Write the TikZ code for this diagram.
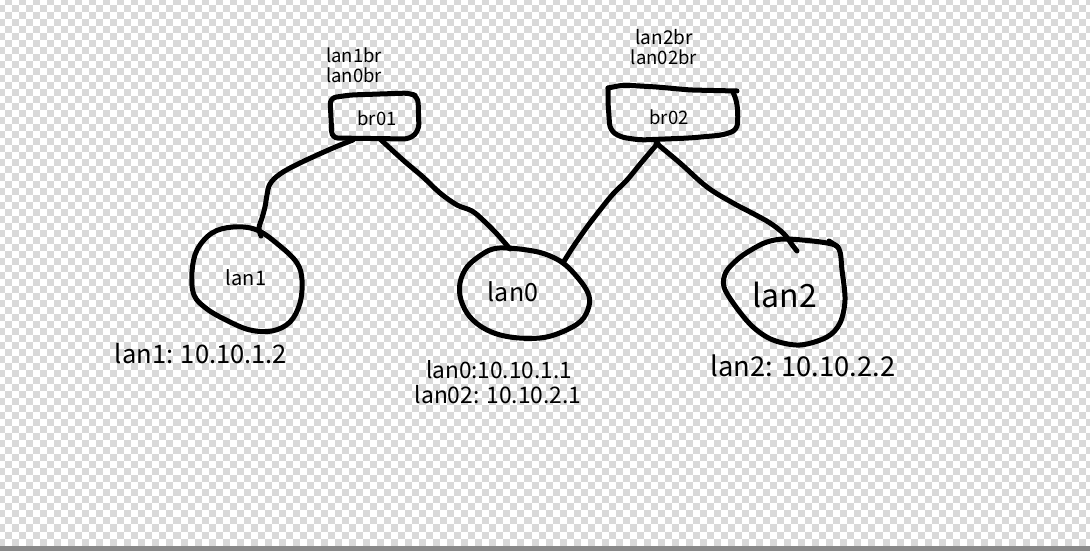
\documentclass[tikz,border=0pt]{standalone}
\usepackage{fontspec}
\setmainfont{Noto Sans CJK SC}
\definecolor{chk}{RGB}{217,217,217}
\definecolor{barc}{RGB}{137,137,137}
\newcommand\fsz[1]{\fontsize{#1}{#1}\selectfont}
\tikzset{
  ink/.style={line width=5pt, line cap=round, line join=round, black},
  lbl/.style={inner sep=0pt, anchor=base, text=black},
  chkrow/.style={line width=7.02pt, chk, line cap=butt, dash pattern=on 7.02pt off 7.02pt},
}
\begin{document}
\begin{tikzpicture}[x=1pt,y=-1pt]
\useasboundingbox (0,0) rectangle (1090,551);
% background
\fill[white] (0,0) rectangle (1090,551);
\begin{scope}
  \clip (0,0) rectangle (1090,546);
  \foreach \j in {0,...,79} {
    \pgfmathsetmacro\yy{-2.02+7.02*\j+3.51}
    \pgfmathsetmacro\ph{mod(\j+1,2)*7.02}
    \draw[chkrow, dash phase=\ph pt] (-2.02,\yy) -- (1100,\yy);
  }
\end{scope}
\fill[barc] (0,546) rectangle (1090,551);

% bridge boxes
\draw[ink, rounded corners=6pt] (330,98) -- (350,95) -- (410,93) -- (418,97) -- (419,130) -- (410,139) -- (332,138) -- cycle;
\draw[ink, rounded corners=6pt] (608,88) -- (623,85) -- (657,87) -- (690,90) -- (737,91);
\draw[ink, rounded corners=6pt] (733,92) -- (737,102) -- (738,117) -- (737,130) -- (723,135) -- (690,138) -- (640,140) -- (620,137) -- (610,130) -- (608,103) -- (608,88);

% lan outlines
\draw[ink] plot[smooth cycle, tension=0.6] coordinates {(233,227) (257,230) (280,246) (297,263) (302,280) (300,303) (290,322) (272,331) (250,330) (228,321) (207,309) (194,295) (192,272) (197,250) (212,233)};
\draw[ink] plot[smooth cycle, tension=0.6] coordinates {(507,248) (527,250) (545,254) (563,263) (578,278) (588,293) (589,306) (581,321) (562,332) (540,338) (510,337) (487,330) (470,317) (461,300) (460,283) (467,267) (481,255) (493,249)};
\draw[ink] plot[smooth cycle, tension=0.55] coordinates {(767,242) (787,239) (827,243) (839,249) (842,270) (845,300) (840,323) (827,337) (800,345) (773,340) (753,327) (736,307) (724,287) (726,272) (738,259) (751,250)};
\draw[ink] (829,241) -- (838,247);

% text
\node[lbl] (tlan1br) at (354,63) {\fsz{18.5}lan1br};
\node[lbl] (tlan0br) at (354,83) {\fsz{18.5}lan0br};
\node[lbl] (br01) at (377,125) {\fsz{18.5}br01};
\node[lbl] (tlan2br) at (664,45) {\fsz{19}lan2br};
\node[lbl] (tlan02br) at (664,65) {\fsz{18.5}lan02br};
\node[lbl] (br02) at (669,124) {\fsz{18.5}br02};
\node[lbl] (lan1) at (246,285) {\fsz{20}lan1};
\node[lbl] (ip1) at (201,363) {\fsz{25.5}lan1: 10.10.1.2};
\node[lbl] (lan0) at (513,301) {\fsz{25}lan0};
\node[lbl] (ip0) at (499,378) {\fsz{22.6}lan0:10.10.1.1};
\node[lbl] (ip02) at (498,403) {\fsz{22.8}lan02: 10.10.2.1};
\node[lbl] (lan2) at (785,307) {\fsz{32}lan2};
\node[lbl] (ip2) at (803,376) {\fsz{27.3}lan2: 10.10.2.2};

% connector end points
\coordinate (c1a) at (353,140); \coordinate (c1b) at (261,236);
\coordinate (c2a) at (380,139); \coordinate (c2b) at (510,249);
\coordinate (c3a) at (563,263); \coordinate (c3b) at (658,143);
\coordinate (c4a) at (656,143); \coordinate (c4b) at (797,251);

\draw[ink] plot[smooth, tension=0.6] coordinates {(c1a) (333,148) (300,163) (280,174) (270,184) (267,195) (265,207) (262,218) (259,228) (c1b)};
\draw[ink] plot[smooth, tension=0.6] coordinates {(c2a) (403,160) (423,177) (440,193) (457,205) (472,211) (484,221) (497,234) (c2b)};
\draw[ink] plot[smooth, tension=0.6] coordinates {(c3a) (573,247) (587,227) (600,210) (613,194) (627,180) (641,163) (c3b)};
\draw[ink] plot[smooth, tension=0.6] coordinates {(c4a) (680,163) (707,187) (733,203) (752,213) (770,223) (784,234) (793,246) (c4b)};
\end{tikzpicture}
\end{document}
